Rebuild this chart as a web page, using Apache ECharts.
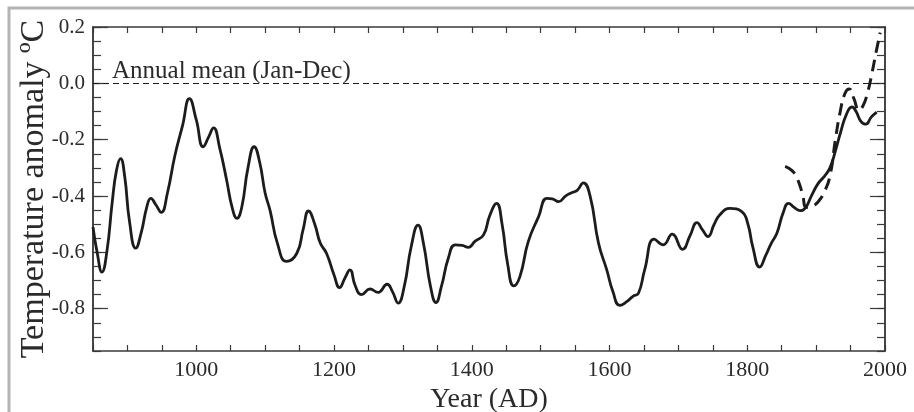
<!DOCTYPE html>
<html>
<head>
<meta charset="utf-8">
<script src="https://cdn.jsdelivr.net/npm/echarts@6/dist/echarts.min.js"></script>
<style>
html,body{margin:0;padding:0;background:#fff;}
#chart{width:914px;height:412px;}
</style>
</head>
<body>
<div id="chart"></div>
<script>
// Reconstructed temperature (solid line)
const years = [850,856,863,870,878,884,890,896,903,912,920,928,934,941,949,958,969,980,990,1000,
1010,1018,1025,1034,1044,1052,1059,1066,1075,1084,1092,1100,1107,1118,1131,1146,1155,1163,1172,1180,
1189,1200,1208,1216,1223,1231,1240,1252,1264,1277,1285,1293,1302,1312,1322,1330,1340,1348,1356,1366,
1376,1386,1395,1405,1417,1426,1436,1444,1452,1461,1470,1482,1497,1509,1517,1526,1536,1545,1553,1562,
1572,1584,1596,1605,1615,1625,1634,1642,1651,1665,1678,1691,1706,1717,1727,1735,1743,1752,1760,1775,
1792,1801,1808,1818,1827,1835,1843,1852,1860,1868,1877,1885,1893,1903,1912,1920,1928,1935,1944,1952,
1958,1965,1972,1980,1988];
const temps = [-0.51,-0.60,-0.67,-0.60,-0.42,-0.31,-0.267,-0.33,-0.49,-0.585,-0.53,-0.44,-0.408,-0.43,-0.458,-0.39,-0.255,-0.15,-0.054,-0.13,
-0.225,-0.19,-0.158,-0.23,-0.343,-0.44,-0.479,-0.44,-0.30,-0.225,-0.28,-0.39,-0.45,-0.57,-0.632,-0.603,-0.52,-0.453,-0.50,-0.567,
-0.603,-0.68,-0.725,-0.69,-0.662,-0.72,-0.75,-0.73,-0.742,-0.713,-0.74,-0.78,-0.72,-0.58,-0.503,-0.57,-0.72,-0.778,-0.72,-0.62,
-0.573,-0.575,-0.582,-0.56,-0.538,-0.47,-0.426,-0.50,-0.64,-0.719,-0.685,-0.562,-0.473,-0.408,-0.41,-0.42,-0.40,-0.388,-0.38,-0.353,
-0.402,-0.567,-0.662,-0.74,-0.788,-0.775,-0.756,-0.745,-0.662,-0.553,-0.573,-0.535,-0.589,-0.54,-0.494,-0.52,-0.544,-0.50,-0.467,-0.444,
-0.455,-0.50,-0.58,-0.652,-0.61,-0.567,-0.532,-0.46,-0.426,-0.44,-0.452,-0.44,-0.40,-0.355,-0.33,-0.30,-0.24,-0.178,-0.11,-0.084,
-0.10,-0.135,-0.145,-0.12,-0.102];
// Instrumental record (dashed line)
const instYears = [1855,1865,1872,1880,1886,1895,1903,1912,1920,1928,1935,1942,1948,1955,1962,1968,1975,1981,1987,1993];
const instTemps = [-0.295,-0.31,-0.335,-0.39,-0.44,-0.435,-0.42,-0.385,-0.33,-0.20,-0.10,-0.035,-0.02,-0.055,-0.095,-0.08,-0.03,0.035,0.11,0.18];
// Axis ticks and labels
const xTickLabels = [1000,1200,1400,1600,1800,2000];
const xMinorTicks = [850,900,950,1000,1050,1100,1150,1200,1250,1300,1350,1400,1450,1500,1550,1600,1650,1700,1750,1800,1850,1900,1950,2000];
const yTickLabels = [0.2,0.0,-0.2,-0.4,-0.6,-0.8];
const yMinorTicks = [-0.95,-0.9,-0.85,-0.8,-0.75,-0.7,-0.65,-0.6,-0.55,-0.5,-0.45,-0.4,-0.35,-0.3,-0.25,-0.2,-0.15,-0.1,-0.05,0,0.05,0.1,0.15,0.2];
const meanLabel = 'Annual mean (Jan-Dec)';

const FONT = '"Liberation Serif", "DejaVu Serif", serif';
const AX = '#3a3a3a';
const INK = '#1c1c1c';

const solid = years.map((y,i)=>[y,temps[i]]);
const dashed = instYears.map((y,i)=>[y,instTemps[i]]);

function xAx(pos, withLabels){
  return {
    type:'value', position:pos, min:850, max:2000,
    splitLine:{show:false},
    axisLine:{show:true, onZero:false, lineStyle:{color:AX, width:1.5}},
    axisTick:{show:true, inside:true, length:6, customValues:xMinorTicks, lineStyle:{color:AX, width:1.2}},
    axisLabel:{show:withLabels, customValues:xTickLabels, margin:8, color:'#2a2a2a', fontFamily:FONT, fontSize:22,
      formatter:v=>String(v)},
    name: withLabels ? 'Year (AD)' : '', nameLocation:'middle', nameGap:31,
    nameTextStyle:{color:'#2a2a2a', fontFamily:FONT, fontSize:28}
  };
}
function yAx(pos, major, withLabels){
  return {
    type:'value', position:pos, min:-0.95, max:0.2,
    splitLine:{show:false},
    axisLine:{show:true, onZero:false, lineStyle:{color:AX, width:1.5}},
    axisTick:{show:true, inside:true, length: major?15:8, customValues: major?yTickLabels:yMinorTicks, lineStyle:{color:AX, width:1.2}},
    axisLabel:{show:withLabels, customValues:yTickLabels, margin:8, color:'#2a2a2a', fontFamily:FONT, fontSize:21,
      formatter:v=>v.toFixed(1)},
    name: withLabels ? 'Temperature anomaly ºC' : '', nameLocation:'middle', nameGap:42, nameMoveOverlap:false,
    nameTextStyle:{color:'#2a2a2a', fontFamily:FONT, fontSize:34}
  };
}

const chart = echarts.init(document.getElementById('chart'), null, {renderer:'canvas'});
chart.setOption({
  animation:false,
  backgroundColor:'#fff',
  grid:{left:93, right:29, top:27, bottom:61, containLabel:false, outerBoundsMode:'none'},
  xAxis:[xAx('bottom', true), xAx('top', false)],
  yAxis:[yAx('left', true, true), yAx('left', false, false), yAx('right', true, false), yAx('right', false, false)],
  graphic:[
    {type:'rect', shape:{x:9, y:8, width:930, height:430}, style:{fill:null, stroke:'#b4b4b4', lineWidth:3}, silent:true, z:-1},
    {type:'text', x:112, y:71, style:{text:meanLabel, font:'25px ' + FONT, fill:'#2a2a2a', verticalAlign:'middle'}, z:10}
  ],
  series:[
    {type:'line', name:'reconstruction', data:solid, xAxisIndex:0, yAxisIndex:0, smooth:0.5, showSymbol:false,
      lineStyle:{color:INK, width:2.8}, z:3,
      markLine:{silent:true, symbol:'none', label:{show:false},
        lineStyle:{color:INK, width:1.1, type:[6,4]}, data:[{yAxis:0}]}},
    {type:'line', name:'instrumental', data:dashed, xAxisIndex:0, yAxisIndex:0, smooth:0.5, showSymbol:false,
      lineStyle:{color:INK, width:3, type:[12,7]}, z:4}
  ]
});
</script>
</body>
</html>
